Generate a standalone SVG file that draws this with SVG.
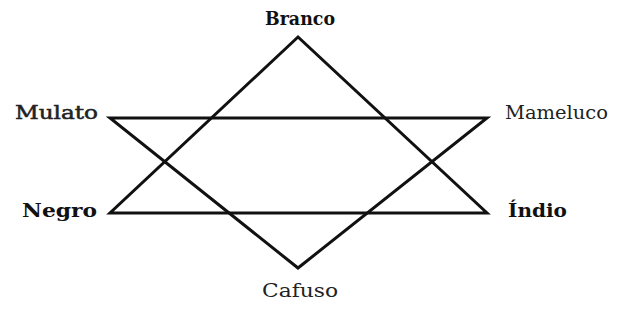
<svg xmlns="http://www.w3.org/2000/svg" width="621" height="326" viewBox="0 0 621 326">
<style>
text{font-family:"DejaVu Serif","Liberation Serif",serif;font-size:18px;fill:#222}
.b{font-weight:bold;fill:#111}
.m{stroke:#222;stroke-width:0.5}
.l{fill:none;stroke:#111;stroke-width:3;stroke-linejoin:miter}
</style>
<rect width="621" height="326" fill="#fff"/>
<g id="connectors">
<polygon class="l" points="298,37 110,213 487,213"/>
<polygon class="l" points="110,118 487,118 298,268"/>
</g>
<g id="branco"><text class="b" x="300" y="25" text-anchor="middle" textLength="70" lengthAdjust="spacingAndGlyphs">Branco</text></g>
<g id="mulato"><text class="m" x="15" y="119" textLength="83" lengthAdjust="spacingAndGlyphs">Mulato</text></g>
<g id="negro"><text class="b" x="22" y="217" textLength="75" lengthAdjust="spacingAndGlyphs">Negro</text></g>
<g id="mameluco"><text x="505" y="119" textLength="103" lengthAdjust="spacingAndGlyphs">Mameluco</text></g>
<g id="indio"><text class="b" x="508" y="217" textLength="59" lengthAdjust="spacingAndGlyphs">Índio</text></g>
<g id="cafuso"><text x="262" y="297" textLength="76" lengthAdjust="spacingAndGlyphs">Cafuso</text></g>
</svg>
